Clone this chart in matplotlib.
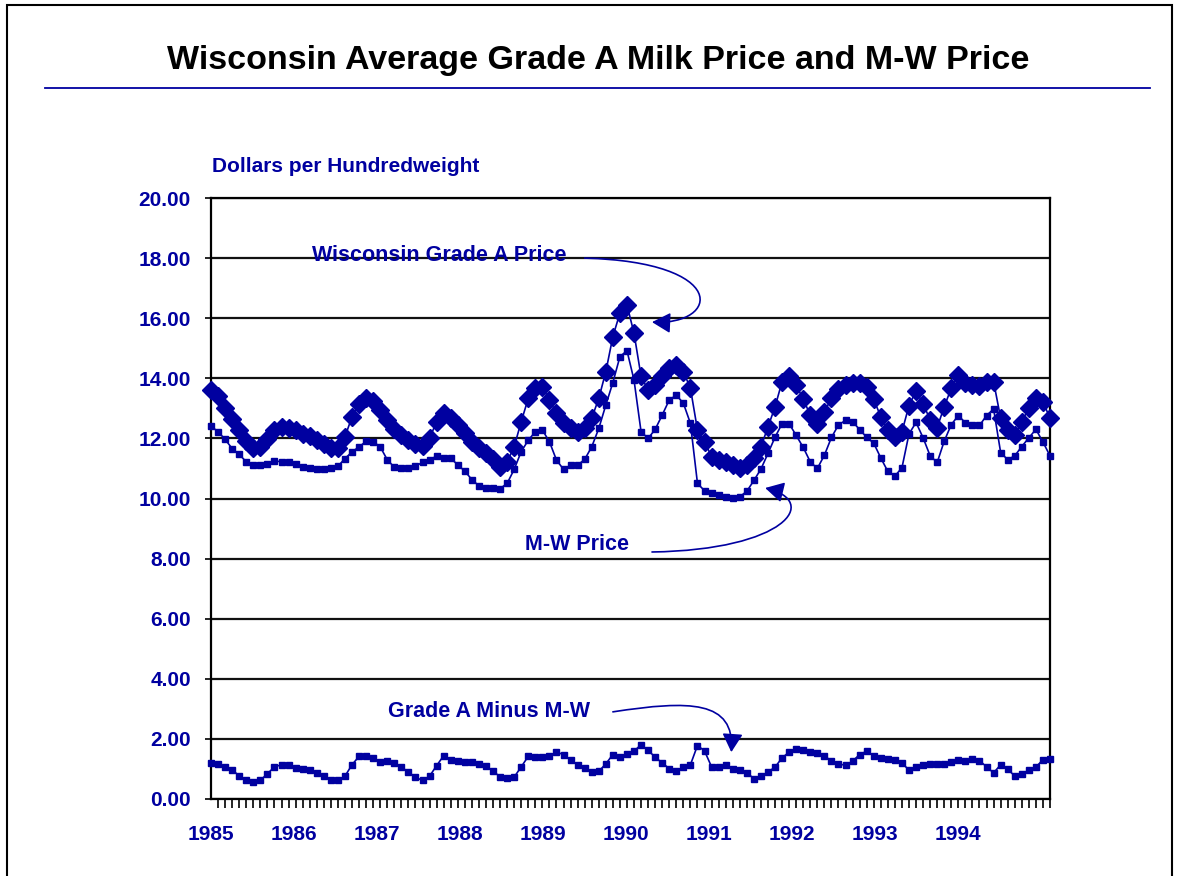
#Precio de la leche Grado A en Wisconsin y precio M-W, 1985-1994
import matplotlib
matplotlib.use("Agg")
import matplotlib.pyplot as plt
from matplotlib.path import Path
from matplotlib.patches import FancyArrowPatch, Rectangle
from matplotlib.lines import Line2D
import numpy as np

plt.rcParams['font.family'] = ['Liberation Sans', 'DejaVu Sans']
plt.rcParams['font.weight'] = 'bold'

azul = '#0000a0'

anios = ['1985', '1986', '1987', '1988', '1989', '1990', '1991', '1992', '1993', '1994']

# precios mensuales, dolares por quintal (ene 1985 - dic 1994)
grado_a = [13.60, 13.42, 13.01, 12.64, 12.27, 11.90, 11.67, 11.73, 11.98, 12.28, 12.39, 12.36,
           12.27, 12.13, 12.07, 11.95, 11.81, 11.68, 11.68, 12.05, 12.72, 13.14, 13.34, 13.25,
           12.95, 12.60, 12.30, 12.11, 11.96, 11.80, 11.74, 12.00, 12.56, 12.83, 12.67, 12.44,
           12.17, 11.89, 11.67, 11.50, 11.33, 11.06, 11.22, 11.72, 12.56, 13.33, 13.67, 13.72,
           13.28, 12.83, 12.50, 12.33, 12.22, 12.33, 12.67, 13.33, 14.22, 15.39, 16.17, 16.44,
           15.50, 14.06, 13.61, 13.78, 14.06, 14.33, 14.45, 14.22, 13.67, 12.28, 11.89, 11.39,
           11.28, 11.22, 11.11, 11.00, 11.10, 11.36, 11.72, 12.38, 13.05, 13.89, 14.07, 13.78,
           13.30, 12.78, 12.48, 12.89, 13.33, 13.63, 13.78, 13.83, 13.86, 13.70, 13.30, 12.72,
           12.28, 12.03, 12.22, 13.09, 13.58, 13.15, 12.62, 12.36, 13.06, 13.67, 14.11, 13.83,
           13.78, 13.74, 13.89, 13.89, 12.67, 12.28, 12.11, 12.56, 13.00, 13.33, 13.22, 12.67]

precio_mw = [12.41, 12.22, 11.97, 11.66, 11.47, 11.22, 11.11, 11.11, 11.14, 11.24, 11.23, 11.20,
             11.14, 11.05, 11.00, 10.99, 10.99, 11.01, 11.07, 11.33, 11.55, 11.72, 11.90, 11.89,
             11.72, 11.29, 11.04, 11.01, 11.01, 11.08, 11.20, 11.29, 11.41, 11.36, 11.34, 11.12,
             10.91, 10.63, 10.42, 10.34, 10.34, 10.33, 10.50, 10.97, 11.56, 11.94, 12.22, 12.28,
             11.89, 11.28, 10.97, 11.11, 11.11, 11.30, 11.72, 12.33, 13.11, 13.86, 14.72, 14.92,
             13.94, 12.22, 12.00, 12.30, 12.78, 13.28, 13.44, 13.17, 12.50, 10.50, 10.26, 10.17,
             10.11, 10.06, 10.02, 10.06, 10.24, 10.60, 10.98, 11.50, 12.04, 12.49, 12.49, 12.10,
             11.70, 11.22, 11.00, 11.44, 12.03, 12.45, 12.60, 12.56, 12.29, 12.04, 11.84, 11.35,
             10.90, 10.75, 11.02, 12.15, 12.53, 12.02, 11.42, 11.20, 11.91, 12.46, 12.76, 12.52,
             12.43, 12.43, 12.76, 12.98, 11.53, 11.29, 11.42, 11.73, 12.02, 12.30, 11.88, 11.42]

diferencia = [1.20, 1.17, 1.06, 0.98, 0.76, 0.64, 0.56, 0.62, 0.84, 1.07, 1.14, 1.14,
              1.03, 1.01, 0.96, 0.87, 0.76, 0.64, 0.62, 0.76, 1.14, 1.42, 1.42, 1.37,
              1.23, 1.26, 1.20, 1.06, 0.90, 0.72, 0.62, 0.76, 1.11, 1.44, 1.31, 1.26,
              1.23, 1.23, 1.18, 1.09, 0.94, 0.73, 0.70, 0.73, 1.07, 1.42, 1.40, 1.40,
              1.42, 1.56, 1.48, 1.29, 1.13, 1.03, 0.90, 0.92, 1.17, 1.48, 1.41, 1.49,
              1.59, 1.81, 1.62, 1.39, 1.20, 1.01, 0.94, 1.06, 1.14, 1.78, 1.60, 1.07,
              1.07, 1.14, 1.01, 0.96, 0.87, 0.68, 0.76, 0.90, 1.06, 1.37, 1.56, 1.67,
              1.62, 1.56, 1.53, 1.44, 1.26, 1.17, 1.12, 1.26, 1.48, 1.59, 1.44, 1.37,
              1.33, 1.29, 1.20, 0.96, 1.07, 1.12, 1.17, 1.18, 1.18, 1.23, 1.31, 1.26,
              1.34, 1.28, 1.07, 0.87, 1.14, 1.00, 0.76, 0.84, 0.96, 1.06, 1.31, 1.33]

meses = np.arange(len(grado_a))

fig = plt.figure(figsize=(11.82, 8.76), dpi=100)
ax = fig.add_axes([211/1182, 77/876, 839/1182, 601/876])

ax.set_xlim(0, len(meses) - 1)
ax.set_ylim(0, 20)
ax.set_yticks(np.arange(0, 21, 2))
ax.set_yticklabels(['%.2f' % v for v in np.arange(0, 21, 2)])
ax.grid(axis='y', color='#111111', lw=1.6)
ax.set_axisbelow(True)

ax.plot(meses, grado_a, color=azul, lw=1.2, marker='D', ms=9.5, clip_on=False, zorder=3)
ax.plot(meses, precio_mw, color=azul, lw=1.2, marker='s', ms=5, clip_on=False, zorder=3)
ax.plot(meses, diferencia, color=azul, lw=1.2, marker='s', ms=5, clip_on=False, zorder=3)

# etiquetas de los anios (separacion igual a la del original)
ax.set_xticks(np.arange(len(anios)) * 11.77)
ax.set_xticklabels(anios)
ax.set_xticks(meses, minor=True)
ax.tick_params(axis='x', which='major', length=0, pad=19, labelsize=15, labelcolor=azul)
ax.tick_params(axis='x', which='minor', length=6.5, width=1.2, direction='out')
ax.tick_params(axis='y', length=4.5, width=1.2, pad=10, labelsize=15, labelcolor=azul)
for s in ax.spines.values():
    s.set_linewidth(1.6)
    s.set_color('black')

# textos y flechas curvas
def flecha(puntos):
    camino = Path(puntos, [Path.MOVETO, Path.CURVE4, Path.CURVE4, Path.CURVE4])
    f = FancyArrowPatch(path=camino, arrowstyle='-|>,head_length=0.45,head_width=0.25',
                        mutation_scale=25, color=azul, lw=1.2, zorder=4)
    ax.add_patch(f)

ax.text(14.3, 18.1, 'Wisconsin Grade A Price', color=azul, fontsize=15.5, va='center')
flecha([(53.0, 18.0), (73.6, 17.87), (72.2, 15.77), (62.55, 15.87)])

ax.text(44.5, 8.47, 'M-W Price', color=azul, fontsize=15.5, va='center')
flecha([(62.55, 8.22), (81.5, 8.29), (86.5, 9.9), (78.6, 10.35)])

ax.text(25.1, 2.92, 'Grade A Minus M-W', color=azul, fontsize=15.5, va='center')
flecha([(57.0, 2.9), (67.9, 3.29), (74.3, 3.29), (73.8, 1.56)])

fig.text(212/1182, 1 - 167/876, 'Dollars per Hundredweight', color=azul, fontsize=15,
         ha='left', va='center')

fig.text(598/1182, 1 - 60/876, 'Wisconsin Average Grade A Milk Price and M-W Price',
         color='black', fontsize=24.5, ha='center', va='center')
fig.add_artist(Line2D([45/1182, 1150/1182], [1 - 88/876, 1 - 88/876],
                      transform=fig.transFigure, color=azul, lw=1.3))
fig.add_artist(Rectangle((7/1182, -0.05), 1165/1182, 1.05 - 5/876, transform=fig.transFigure,
                         fill=False, ec='black', lw=1.5))

fig.savefig('out.png', dpi=100)
